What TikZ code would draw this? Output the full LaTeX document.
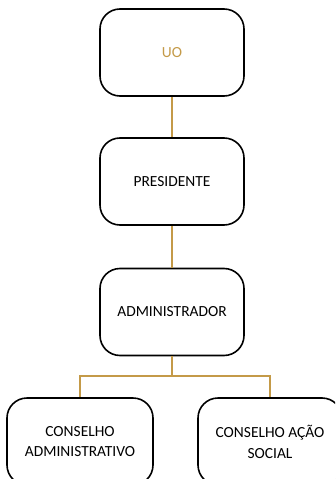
\documentclass[tikz,border=0pt]{standalone}
\usepackage{fontspec}
\setmainfont{Carlito}
\usetikzlibrary{positioning}
\definecolor{goldline}{RGB}{196,154,72}
\tikzset{
	orgbox/.style={draw=black, line width=1.6bp, rounded corners=20bp, fill=white,
		minimum width=144bp, minimum height=87bp, inner sep=0pt, align=center,
		font=\fontsize{15.5}{21}\selectfont},
	orglink/.style={draw=goldline, line width=1.8bp}
}

\begin{document}
\begin{tikzpicture}[x=1bp, y=-1bp]
		%%%%% START %%%%%
		
		\clip (0, 0) rectangle (335, 479);
		
		\node[orgbox, text=goldline] (uo) at (172, 52.5) {UO};
		\node[orgbox] (pres) at (172, 181.5) {PRESIDENTE};
		\node[orgbox] (admin) at (172, 312) {ADMINISTRADOR};
		
		\node[orgbox, minimum width=146bp] (consadm) at (80, 441.5) {CONSELHO\\ADMINISTRATIVO};
		\node[orgbox] (conssoc) at (270, 441.5) {CONSELHO AÇÃO\\SOCIAL};
		
		\coordinate (fork) at (172, 376);
		
		\draw[orglink] (uo) -- (pres);
		\draw[orglink] (pres) -- (admin);
		\draw[orglink] (admin) -- (fork);
		\draw[orglink] (fork) -| (consadm.north);
		\draw[orglink] (fork) -| (conssoc.north);
		
		%%%%% END %%%%%
	\end{tikzpicture}
\end{document}
